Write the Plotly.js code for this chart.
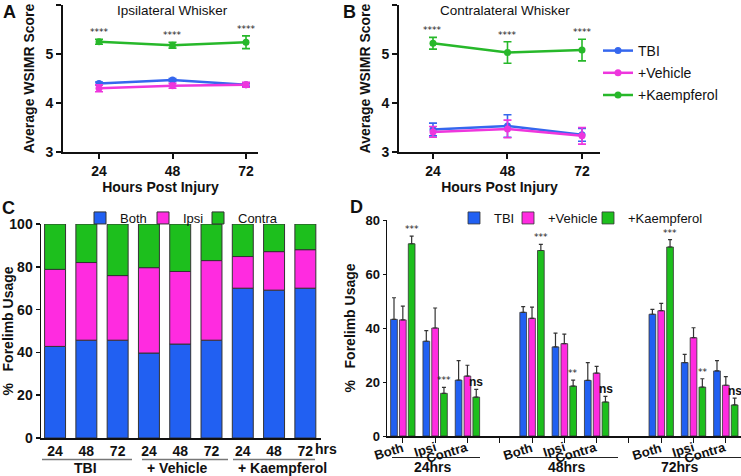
<!DOCTYPE html>
<html><head><meta charset="utf-8">
<script src="https://cdn.plot.ly/plotly-3.0.1.min.js"></script>
<style>html,body{margin:0;padding:0;background:#fff}#chart{width:741px;height:476px}</style>
</head><body><div id="chart"></div>
<script>
// ---------- data ----------
const hours = [24, 48, 72];
const seriesNames = ['TBI', '+Vehicle', '+Kaempferol'];
// Panel A: Ipsilateral whisker
const ipsiTBI = [4.40, 4.47, 4.37];
const ipsiTBIErr = [0.03, 0.03, 0.03];
const ipsiVeh = [4.30, 4.35, 4.37];
const ipsiVehErr = [0.07, 0.05, 0.05];
const ipsiKae = [5.25, 5.18, 5.24];
const ipsiKaeErr = [0.05, 0.06, 0.13];
// Panel B: Contralateral whisker
const contraTBI = [3.46, 3.53, 3.35];
const contraTBIErr = [0.13, 0.23, 0.13];
const contraVeh = [3.41, 3.47, 3.33];
const contraVehErr = [0.11, 0.18, 0.17];
const contraKae = [5.22, 5.03, 5.08];
const contraKaeErr = [0.12, 0.22, 0.22];
const starsAB = ['****', '****', '****'];
// Panel C: stacked forelimb usage
const cCats = ['TBI 24', 'TBI 48', 'TBI 72', 'Veh 24', 'Veh 48', 'Veh 72', 'Kae 24', 'Kae 48', 'Kae 72'];
const cTickText = ['24', '48', '72', '24', '48', '72', '24', '48', '72'];
const cSegNames = ['Both', 'Ipsi', 'Contra'];
const cBoth = [42.8, 45.7, 45.7, 39.7, 43.9, 45.7, 70.0, 69.1, 70.0];
const cIpsi = [36.0, 36.3, 30.2, 39.9, 33.9, 37.2, 14.8, 18.0, 18.0];
const cContra = [21.2, 18.0, 24.1, 20.4, 22.2, 17.1, 15.2, 12.9, 12.0];
const cGroupLabels = ['TBI', '+ Vehicle', '+ Kaempferol'];
// Panel D: grouped forelimb usage
const dAxisCats = ['24 Both', '24 Ipsi', '24 Contra', 'gap1', '48 Both', '48 Ipsi', '48 Contra', 'gap2', '72 Both', '72 Ipsi', '72 Contra'];
const dTickText = ['Both', 'Ipsi', 'Contra', '', 'Both', 'Ipsi', 'Contra', '', 'Both', 'Ipsi', 'Contra'];
const dCats = ['24 Both', '24 Ipsi', '24 Contra', '48 Both', '48 Ipsi', '48 Contra', '72 Both', '72 Ipsi', '72 Contra'];
const dTBI = [43.2, 35.1, 20.7, 45.8, 33.0, 20.6, 45.1, 27.2, 24.1];
const dTBIErr = [8.0, 3.9, 7.2, 2.1, 5.1, 6.6, 1.8, 3.0, 3.8];
const dVeh = [43.0, 40.0, 22.2, 43.6, 34.2, 23.3, 46.4, 36.4, 18.8];
const dVehErr = [5.1, 7.4, 4.0, 4.1, 3.5, 2.5, 2.7, 3.7, 3.2];
const dKae = [71.2, 15.8, 14.4, 68.7, 18.5, 12.6, 70.0, 18.1, 11.5];
const dKaeErr = [2.8, 2.2, 2.9, 2.3, 2.2, 2.1, 2.7, 3.1, 2.5];
const dSig = ['***', '***', 'ns', '***', '**', 'ns', '***', '**', 'ns'];
const dGroupLabels = ['24hrs', '48hrs', '72hrs'];

// ---------- style ----------
const W = 741, H = 476;
const px = v => v / W, py = v => 1 - v / H;
const F = 'Arial, "Liberation Sans", sans-serif';
const lineCol = ['#3567ee', '#ee36dd', '#27b82a'];
const barCol = ['#2160f2', '#ff2be0', '#1dbf1d'];
const boldFont = (s) => ({family: F, size: s, color: '#111', weight: 'bold'});
const starFont = {family: 'DejaVu Sans, sans-serif', size: 9, color: '#222'};

function axisBase(extra) {
  return Object.assign({
    showline: true, linecolor: '#111', linewidth: 2, mirror: false,
    showgrid: false, zeroline: false, ticks: 'outside', ticklen: 5, tickwidth: 2, tickcolor: '#111',
    tickfont: boldFont(14), fixedrange: true
  }, extra);
}

const traces = [];
// Panels A and B
const abSets = [
  {xa: 'x', ya: 'y', vals: [ipsiTBI, ipsiVeh, ipsiKae], errs: [ipsiTBIErr, ipsiVehErr, ipsiKaeErr], show: false},
  {xa: 'x2', ya: 'y2', vals: [contraTBI, contraVeh, contraKae], errs: [contraTBIErr, contraVehErr, contraKaeErr], show: true}
];
abSets.forEach(s => {
  s.vals.forEach((v, k) => {
    traces.push({
      type: 'scatter', mode: 'lines+markers', x: hours, y: v, xaxis: s.xa, yaxis: s.ya,
      name: seriesNames[k], showlegend: s.show, legend: 'legend', legendgroup: 'g' + k,
      line: {color: lineCol[k], width: 2.5}, marker: {color: lineCol[k], size: 7},
      error_y: {type: 'data', array: s.errs[k], color: lineCol[k], thickness: 1.6, width: 4}
    });
  });
});

// Panel C (stacked via base)
const cBase2 = cBoth.map((b, i) => b + cIpsi[i]);
const cLegW = [18, 10, 50];
[[cBoth, null], [cIpsi, cBoth], [cContra, cBase2]].forEach((pair, k) => {
  const t = {
    type: 'bar', x: cCats, y: pair[0], xaxis: 'x3', yaxis: 'y3', name: cSegNames[k],
    legend: 'legend2', legendwidth: cLegW[k], width: 0.67, offset: -0.335,
    marker: {color: barCol[k], line: {color: '#333', width: 1}}
  };
  if (pair[1]) t.base = pair[1];
  traces.push(t);
});

// Panel D
const dLegW = [9, 35, 85];
[[dTBI, dTBIErr], [dVeh, dVehErr], [dKae, dKaeErr]].forEach((pair, k) => {
  traces.push({
    type: 'bar', x: dCats, y: pair[0], xaxis: 'x4', yaxis: 'y4', name: seriesNames[k],
    legend: 'legend3', legendwidth: dLegW[k], marker: {color: barCol[k], line: {color: '#333', width: 0.8}},
    error_y: {type: 'data', symmetric: false, array: pair[1], arrayminus: pair[1].map(() => 0), color: '#333', thickness: 1.2, width: 2}
  });
});

// ---------- annotations ----------
const ann = [];
const letter = (t, x, y) => ann.push({text: t, xref: 'paper', yref: 'paper', x: px(x), y: py(y), showarrow: false, font: boldFont(18), xanchor: 'center', yanchor: 'middle'});
letter('A', 9, 12); letter('B', 349, 12); letter('C', 8, 208); letter('D', 356, 207);
ann.push({text: 'Ipsilateral Whisker', xref: 'paper', yref: 'paper', x: px(172), y: py(1), showarrow: false, xanchor: 'center', yanchor: 'top', font: {family: F, size: 13.5, color: '#111'}});
ann.push({text: 'Contralateral Whisker', xref: 'paper', yref: 'paper', x: px(505), y: py(1), showarrow: false, xanchor: 'center', yanchor: 'top', font: {family: F, size: 13.5, color: '#111'}});
hours.forEach((h, i) => {
  ann.push({text: starsAB[i], xref: 'x', yref: 'y', x: h, y: ipsiKae[i] + ipsiKaeErr[i], yanchor: 'bottom', showarrow: false, yshift: 0, font: starFont});
  ann.push({text: starsAB[i], xref: 'x2', yref: 'y2', x: h, y: contraKae[i] + contraKaeErr[i], yanchor: 'bottom', showarrow: false, yshift: 0, font: starFont});
});
dCats.forEach((c, i) => {
  const ns = dSig[i] === 'ns';
  ann.push({text: dSig[i], xref: 'x4', yref: 'y4', x: c, y: dKae[i] + dKaeErr[i], xshift: 9, yanchor: 'bottom', showarrow: false, yshift: ns ? -2 : 0,
    font: ns ? boldFont(12) : starFont});
});
// D rotated category labels
dAxisCats.forEach((c, i) => {
  if (!dTickText[i]) return;
  ann.push({text: dTickText[i], xref: 'x4', yref: 'paper', x: c, y: py(437), xanchor: 'right', yanchor: 'top', xshift: 5,
    textangle: -17, showarrow: false, font: boldFont(13)});
});
// C: "hrs" suffix and group labels
ann.push({text: 'hrs', xref: 'x3', yref: 'paper', x: cCats[8], y: py(449), xanchor: 'left', yanchor: 'middle', xshift: 8, showarrow: false, font: boldFont(14)});
const cGroupX = [85, 177, 282];
cGroupLabels.forEach((g, i) => ann.push({text: g, xref: 'paper', yref: 'paper', x: px(cGroupX[i]), y: py(468), xanchor: 'center', yanchor: 'middle', showarrow: false, font: boldFont(14)}));
const dGroupX = [433, 567, 680];
dGroupLabels.forEach((g, i) => ann.push({text: g, xref: 'paper', yref: 'paper', x: px(dGroupX[i]), y: py(467), xanchor: 'center', yanchor: 'middle', showarrow: false, font: boldFont(14)}));

// ---------- shapes (group underlines) ----------
const shapes = [];
const hline = (x0, x1, y, col, w) => shapes.push({type: 'line', xref: 'paper', yref: 'paper', x0: px(x0), x1: px(x1), y0: py(y), y1: py(y), line: {color: col, width: w}});
[[42, 132], [142, 228], [233, 315]].forEach(s => hline(s[0], s[1], 459.5, '#777', 1.5));
[[392, 480], [517, 618], [648, 741]].forEach(s => hline(s[0], s[1], 457.5, '#222', 1));

const layout = {
  width: W, height: H, margin: {l: 0, r: 0, t: 0, b: 0},
  paper_bgcolor: '#fff', plot_bgcolor: '#fff', font: {family: F, color: '#111'},
  barmode: 'group', bargap: 0.18, bargroupgap: 0.24,
  xaxis: axisBase({domain: [px(63), px(258)], range: [12.24, 75.92], tickvals: hours, anchor: 'y',
    title: {text: 'Hours Post Injury', font: boldFont(14), standoff: 4}}),
  yaxis: axisBase({domain: [py(152), py(5)], range: [3, 6], dtick: 1, anchor: 'x',
    title: {text: 'Average WSIMR Score', font: boldFont(14), standoff: 8}}),
  xaxis2: axisBase({domain: [px(399), px(600)], range: [13.05, 77.8], tickvals: hours, anchor: 'y2',
    title: {text: 'Hours Post Injury', font: boldFont(14), standoff: 4}}),
  yaxis2: axisBase({domain: [py(152), py(5)], range: [3, 6], dtick: 1, anchor: 'x2',
    title: {text: 'Average WSIMR Score', font: boldFont(14), standoff: 8}}),
  xaxis3: axisBase({domain: [px(41), px(321)], type: 'category', categoryorder: 'array', categoryarray: cCats,
    range: [-0.45, 8.5], tickvals: cCats, ticktext: cTickText, ticks: '', anchor: 'y3', linewidth: 1.5}),
  yaxis3: axisBase({domain: [py(438), py(224)], range: [0, 100], dtick: 20, anchor: 'x3', ticklen: 4, linewidth: 1.5, tickwidth: 1.5,
    title: {text: '%   Forelimb Usage', font: boldFont(14), standoff: 8}}),
  xaxis4: axisBase({domain: [px(387), 1], type: 'category', categoryorder: 'array', categoryarray: dAxisCats,
    range: [-0.49, 10.47], tickvals: dAxisCats, showticklabels: false, ticklen: 5, tickwidth: 1, linewidth: 1.5, anchor: 'y4'}),
  yaxis4: axisBase({domain: [py(436), py(220)], range: [0, 80], dtick: 20, anchor: 'x4', ticklen: 3, tickwidth: 1, linewidth: 1.5,
    tickfont: boldFont(13), title: {text: '%   Forelimb Usage', font: boldFont(14), standoff: 6}}),
  legend: {x: px(598), y: py(35), xanchor: 'left', yanchor: 'top', orientation: 'v', itemwidth: 30, tracegroupgap: 1,
    font: {family: F, size: 14, color: '#111'}, bgcolor: 'rgba(0,0,0,0)'},
  legend2: {x: px(80), y: py(203), xanchor: 'left', yanchor: 'top', orientation: 'h', itemwidth: 30,
    font: {family: F, size: 13, color: '#111'}, bgcolor: 'rgba(0,0,0,0)'},
  legend3: {x: px(454), y: py(203), xanchor: 'left', yanchor: 'top', orientation: 'h', itemwidth: 30,
    font: {family: F, size: 13, color: '#111'}, bgcolor: 'rgba(0,0,0,0)'},
  annotations: ann, shapes: shapes
};

Plotly.newPlot('chart', traces, layout, {displayModeBar: false, staticPlot: true});
</script>
</body></html>
